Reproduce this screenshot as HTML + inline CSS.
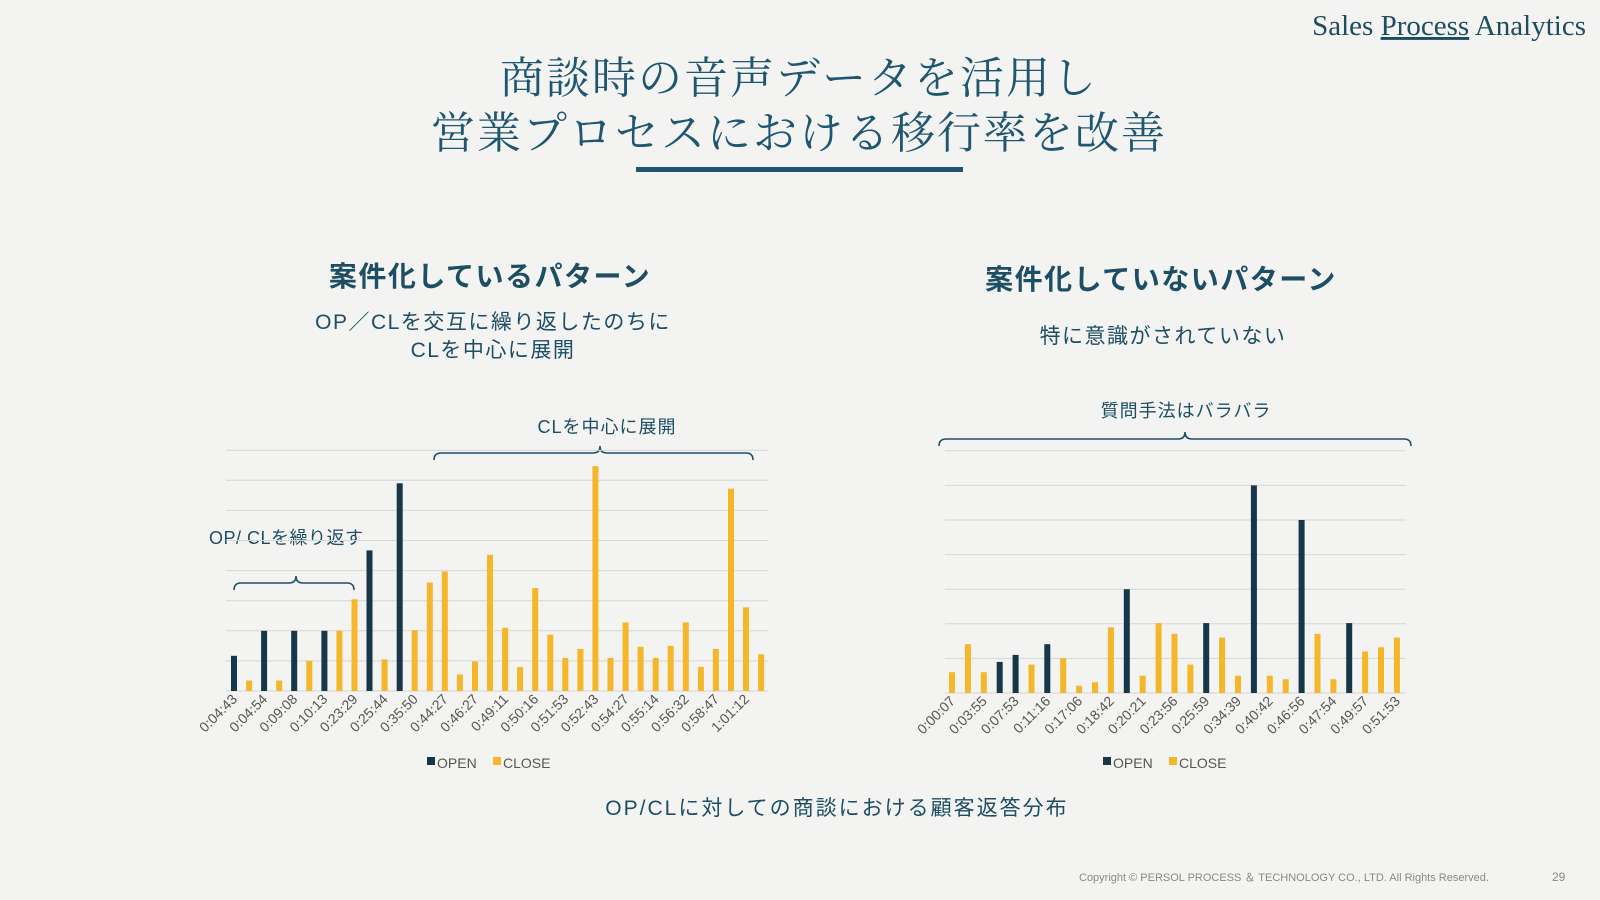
<!DOCTYPE html>
<html><head><meta charset="utf-8"><style>
html,body{margin:0;padding:0;background:#f3f3f1;}
svg{display:block;}
.s{font-family:"Liberation Serif","Noto Serif CJK JP",serif;}
.g{font-family:"Liberation Sans","Noto Sans CJK JP",sans-serif;}
.lb{font-family:"Liberation Sans","Noto Sans CJK JP",sans-serif;font-size:14px;fill:#555;}
</style></head><body>
<svg width="1600" height="900" viewBox="0 0 1600 900" xmlns="http://www.w3.org/2000/svg">
<rect width="1600" height="900" fill="#f3f3f1"/>
<text x="1586" y="35" text-anchor="end" class="s" font-size="29" fill="#1e4d5e">Sales <tspan text-decoration="underline">Process</tspan> Analytics</text>
<text x="799" y="93" text-anchor="middle" class="s" font-size="44" letter-spacing="2" fill="#1f5670">商談時の音声データを活用し</text>
<text x="799" y="148" text-anchor="middle" class="s" font-size="44" letter-spacing="2" fill="#1f5670">営業プロセスにおける移行率を改善</text>
<rect x="636" y="167" width="327" height="5" fill="#1f5670"/>

<g class="g" fill="#1d4e63">
<text x="490" y="286" text-anchor="middle" font-size="28" letter-spacing="1.5" font-weight="bold">案件化しているパターン</text>
<text x="493" y="329" text-anchor="middle" font-size="21" letter-spacing="1.5">OP／CLを交互に繰り返したのちに</text>
<text x="493" y="357" text-anchor="middle" font-size="21" letter-spacing="1.5">CLを中心に展開</text>
<text x="607" y="433" text-anchor="middle" font-size="18" letter-spacing="1">CLを中心に展開</text>
<text x="209" y="544" font-size="18" letter-spacing="0.5">OP/ CLを繰り返す</text>
<text x="1161" y="289" text-anchor="middle" font-size="28" letter-spacing="1.5" font-weight="bold">案件化していないパターン</text>
<text x="1163" y="343" text-anchor="middle" font-size="21" letter-spacing="1.5">特に意識がされていない</text>
<text x="1186" y="417" text-anchor="middle" font-size="18" letter-spacing="1">質問手法はバラバラ</text>
<text x="837" y="815" text-anchor="middle" font-size="21" letter-spacing="2">OP/CLに対しての商談における顧客返答分布</text>
</g>
<g fill="none" stroke="#1d4e63" stroke-width="1.6">
<path d="M434 460 Q434 453 441 453 L593 453 Q600 453 600 446 Q600 453 607 453 L746 453 Q753 453 753 460"/>
<path d="M234 590 Q234 583 241 583 L289 583 Q296 583 296 576 Q296 583 303 583 L347 583 Q354 583 354 590"/>
<path d="M939 446 Q939 439 946 439 L1178 439 Q1185 439 1185 432 Q1185 439 1192 439 L1404 439 Q1411 439 1411 446"/>
</g>

<g stroke="#d6d6d4" stroke-width="1">
<line x1="226" x2="768" y1="450.2" y2="450.2"/><line x1="226" x2="768" y1="480.3" y2="480.3"/><line x1="226" x2="768" y1="510.4" y2="510.4"/><line x1="226" x2="768" y1="540.5" y2="540.5"/><line x1="226" x2="768" y1="570.6" y2="570.6"/><line x1="226" x2="768" y1="600.7" y2="600.7"/><line x1="226" x2="768" y1="630.8" y2="630.8"/><line x1="226" x2="768" y1="660.9" y2="660.9"/><line x1="226" x2="768" y1="691" y2="691"/>
<line x1="945" x2="1406" y1="450.8" y2="450.8"/><line x1="945" x2="1406" y1="485.4" y2="485.4"/><line x1="945" x2="1406" y1="520" y2="520"/><line x1="945" x2="1406" y1="554.6" y2="554.6"/><line x1="945" x2="1406" y1="589.2" y2="589.2"/><line x1="945" x2="1406" y1="623.8" y2="623.8"/><line x1="945" x2="1406" y1="658.4" y2="658.4"/><line x1="945" x2="1406" y1="693" y2="693"/>
</g>
<g fill="#173647">
<rect x="231" y="655.8" width="6" height="35.2"/><rect x="261.1" y="630.8" width="6" height="60.2"/><rect x="291.2" y="630.8" width="6" height="60.2"/><rect x="321.4" y="630.8" width="6" height="60.2"/><rect x="366.5" y="550.4" width="6" height="140.6"/><rect x="396.7" y="483.3" width="6" height="207.7"/>
<rect x="996.7" y="661.9" width="6" height="31.1"/><rect x="1012.6" y="654.9" width="6" height="38.1"/><rect x="1044.3" y="644.2" width="6" height="48.8"/><rect x="1123.8" y="589.2" width="6" height="103.8"/><rect x="1203.2" y="623.1" width="6" height="69.9"/><rect x="1250.9" y="485.4" width="6" height="207.6"/><rect x="1298.6" y="520" width="6" height="173"/><rect x="1346.2" y="623.1" width="6" height="69.9"/>
</g>
<g fill="#f6b62a">
<rect x="246.1" y="680.5" width="6" height="10.5"/><rect x="276.2" y="680.5" width="6" height="10.5"/><rect x="306.3" y="660.9" width="6" height="30.1"/><rect x="336.4" y="630.8" width="6" height="60.2"/><rect x="351.5" y="599.2" width="6" height="91.8"/><rect x="381.6" y="659.4" width="6" height="31.6"/><rect x="411.7" y="630.2" width="6" height="60.8"/><rect x="426.8" y="582.6" width="6" height="108.4"/><rect x="441.8" y="571.5" width="6" height="119.5"/><rect x="456.9" y="674.4" width="6" height="16.6"/><rect x="472" y="661.5" width="6" height="29.5"/><rect x="487" y="554.9" width="6" height="136.1"/><rect x="502.1" y="627.8" width="6" height="63.2"/><rect x="517.1" y="666.9" width="6" height="24.1"/><rect x="532.2" y="588.1" width="6" height="102.9"/><rect x="547.3" y="634.7" width="6" height="56.3"/><rect x="562.3" y="657.9" width="6" height="33.1"/><rect x="577.4" y="648.9" width="6" height="42.1"/><rect x="592.4" y="466.2" width="6" height="224.8"/><rect x="607.5" y="657.9" width="6" height="33.1"/><rect x="622.6" y="622.4" width="6" height="68.6"/><rect x="637.6" y="646.8" width="6" height="44.2"/><rect x="652.7" y="657.9" width="6" height="33.1"/><rect x="667.7" y="645.8" width="6" height="45.2"/><rect x="682.8" y="622.4" width="6" height="68.6"/><rect x="697.9" y="666.9" width="6" height="24.1"/><rect x="712.9" y="648.9" width="6" height="42.1"/><rect x="728" y="488.7" width="6" height="202.3"/><rect x="743" y="607.3" width="6" height="83.7"/><rect x="758.1" y="654.3" width="6" height="36.7"/>
<rect x="949" y="672.2" width="6" height="20.8"/><rect x="964.9" y="644.2" width="6" height="48.8"/><rect x="980.8" y="672.2" width="6" height="20.8"/><rect x="1028.5" y="664.6" width="6" height="28.4"/><rect x="1060.2" y="658.1" width="6" height="34.9"/><rect x="1076.1" y="685.7" width="6" height="7.3"/><rect x="1092" y="682.3" width="6" height="10.7"/><rect x="1107.9" y="627.3" width="6" height="65.7"/><rect x="1139.7" y="675.7" width="6" height="17.3"/><rect x="1155.6" y="623.1" width="6" height="69.9"/><rect x="1171.5" y="633.8" width="6" height="59.2"/><rect x="1187.4" y="664.6" width="6" height="28.4"/><rect x="1219.1" y="637.6" width="6" height="55.4"/><rect x="1235" y="675.7" width="6" height="17.3"/><rect x="1266.8" y="675.7" width="6" height="17.3"/><rect x="1282.7" y="679.2" width="6" height="13.8"/><rect x="1314.5" y="633.8" width="6" height="59.2"/><rect x="1330.4" y="679.2" width="6" height="13.8"/><rect x="1362.1" y="651.5" width="6" height="41.5"/><rect x="1378" y="647.3" width="6" height="45.7"/><rect x="1393.9" y="637.6" width="6" height="55.4"/>
</g>

<g class="lb" text-anchor="end">
<text transform="translate(238,700) rotate(-45)">0:04:43</text>
<text transform="translate(268.1,700) rotate(-45)">0:04:54</text>
<text transform="translate(298.2,700) rotate(-45)">0:09:08</text>
<text transform="translate(328.4,700) rotate(-45)">0:10:13</text>
<text transform="translate(358.5,700) rotate(-45)">0:23:29</text>
<text transform="translate(388.6,700) rotate(-45)">0:25:44</text>
<text transform="translate(418.7,700) rotate(-45)">0:35:50</text>
<text transform="translate(448.8,700) rotate(-45)">0:44:27</text>
<text transform="translate(479,700) rotate(-45)">0:46:27</text>
<text transform="translate(509.1,700) rotate(-45)">0:49:11</text>
<text transform="translate(539.2,700) rotate(-45)">0:50:16</text>
<text transform="translate(569.3,700) rotate(-45)">0:51:53</text>
<text transform="translate(599.4,700) rotate(-45)">0:52:43</text>
<text transform="translate(629.6,700) rotate(-45)">0:54:27</text>
<text transform="translate(659.7,700) rotate(-45)">0:55:14</text>
<text transform="translate(689.8,700) rotate(-45)">0:56:32</text>
<text transform="translate(719.9,700) rotate(-45)">0:58:47</text>
<text transform="translate(750,700) rotate(-45)">1:01:12</text>
<text transform="translate(956,702) rotate(-45)">0:00:07</text>
<text transform="translate(987.8,702) rotate(-45)">0:03:55</text>
<text transform="translate(1019.6,702) rotate(-45)">0:07:53</text>
<text transform="translate(1051.3,702) rotate(-45)">0:11:16</text>
<text transform="translate(1083.1,702) rotate(-45)">0:17:06</text>
<text transform="translate(1114.9,702) rotate(-45)">0:18:42</text>
<text transform="translate(1146.7,702) rotate(-45)">0:20:21</text>
<text transform="translate(1178.5,702) rotate(-45)">0:23:56</text>
<text transform="translate(1210.2,702) rotate(-45)">0:25:59</text>
<text transform="translate(1242,702) rotate(-45)">0:34:39</text>
<text transform="translate(1273.8,702) rotate(-45)">0:40:42</text>
<text transform="translate(1305.6,702) rotate(-45)">0:46:56</text>
<text transform="translate(1337.4,702) rotate(-45)">0:47:54</text>
<text transform="translate(1369.1,702) rotate(-45)">0:49:57</text>
<text transform="translate(1400.9,702) rotate(-45)">0:51:53</text>
</g>
<g class="g" font-size="14" fill="#555">
<rect x="427" y="757" width="8" height="8" fill="#173647"/><text x="437" y="768">OPEN</text>
<rect x="493" y="757" width="8" height="8" fill="#f6b62a"/><text x="503" y="768">CLOSE</text>
<rect x="1103" y="757" width="8" height="8" fill="#173647"/><text x="1113" y="768">OPEN</text>
<rect x="1169" y="757" width="8" height="8" fill="#f6b62a"/><text x="1179" y="768">CLOSE</text>
</g>
<text x="1079" y="881" class="g" font-size="11" fill="#888">Copyright © PERSOL PROCESS ＆ TECHNOLOGY  CO., LTD. All Rights Reserved.</text>
<text x="1552" y="881" class="g" font-size="12" fill="#888">29</text>
</svg>
</body></html>
